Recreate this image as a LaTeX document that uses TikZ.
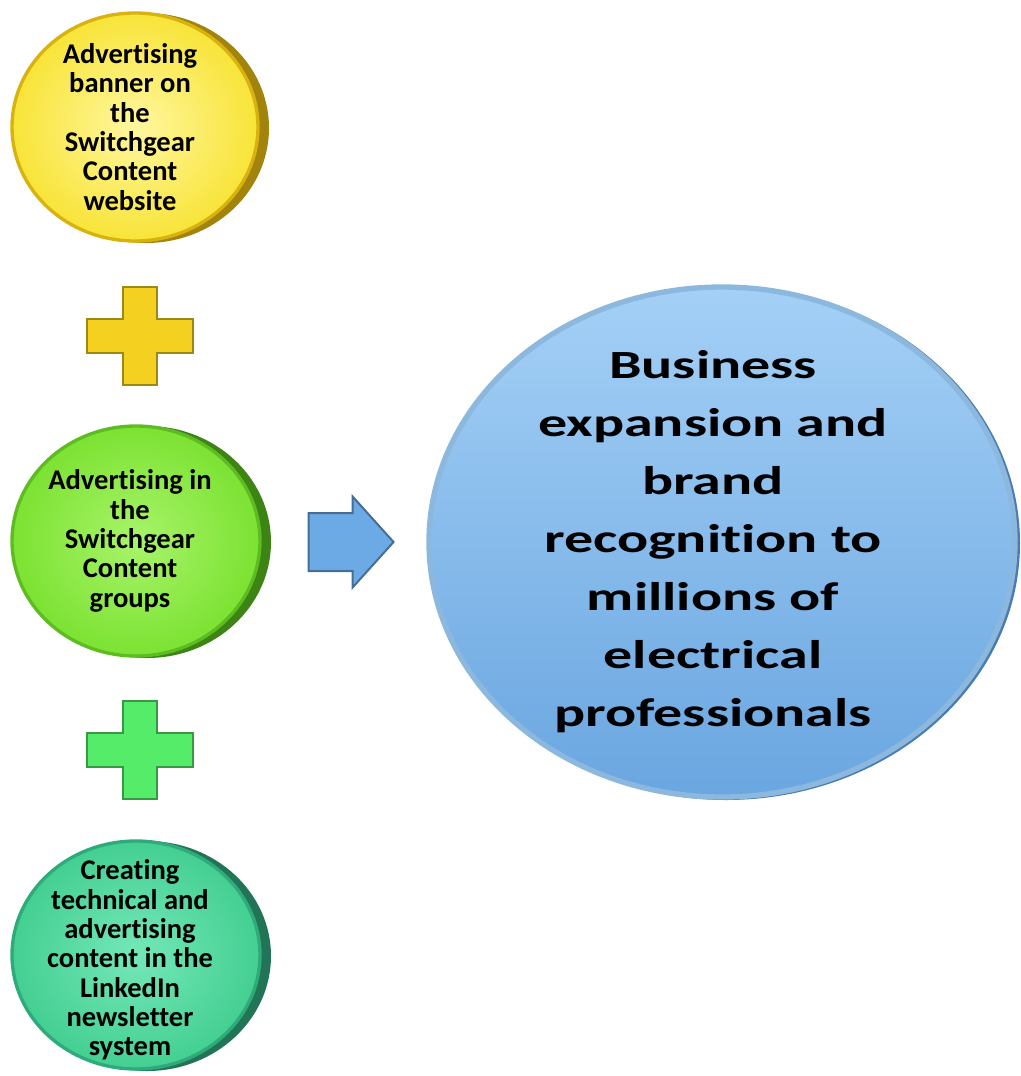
\documentclass[tikz,border=0pt]{standalone}
\usepackage{fontspec}
\setmainfont[Ligatures=NoCommon]{Carlito}
\newfontfamily\widefont[FakeStretch=1.45,Ligatures=NoCommon]{Carlito}
\usetikzlibrary{shapes.arrows}

\definecolor{ylight}{HTML}{FFF7A0}
\definecolor{ymid}{HTML}{F8E438}
\definecolor{yedge}{HTML}{D8B210}
\definecolor{yrim}{HTML}{A2840C}
\definecolor{glight}{HTML}{A8F46A}
\definecolor{gmid}{HTML}{7CE232}
\definecolor{gedge}{HTML}{5CBC22}
\definecolor{grim}{HTML}{3C8414}
\definecolor{tlight}{HTML}{74E8B8}
\definecolor{tmid}{HTML}{44CF92}
\definecolor{tedge}{HTML}{2FAA7A}
\definecolor{trim}{HTML}{217556}
\definecolor{blight}{HTML}{A4D0F6}
\definecolor{bmid}{HTML}{6AA6E0}
\definecolor{bedge}{HTML}{8CB8DE}
\definecolor{brim}{HTML}{4A7CB4}
\definecolor{plusyellow}{HTML}{F4D020}
\definecolor{plusgreen}{HTML}{55EC6A}
\definecolor{arrowblue}{HTML}{6CAAE6}

\begin{document}
\begin{tikzpicture}[x=0.75pt,y=0.75pt,yscale=-1,xscale=1,
    smalltext/.style={align=center,inner sep=0.75pt,font=\bfseries\fontsize{21.4}{22}\selectfont},
    bigtext/.style={align=center,inner sep=0.75pt,font=\widefont\bfseries\fontsize{30}{43.5}\selectfont},
    plusy/.style={fill=#1,draw=#1!65!black,line width=1.5,line join=miter},
    blockarrow/.style={single arrow,fill=arrowblue,draw=arrowblue!65!black,line width=1.5,
        minimum height=63.75pt,inner xsep=0pt,inner ysep=21pt,
        single arrow head extend=12.4pt,single arrow tip angle=96}]
        \useasboundingbox (0,0) rectangle (1021,1076);

        %Shape: Ellipse [yellow coin]
        \fill[yrim] (146,128) ellipse [x radius=123, y radius=115];
        \shade[inner color=ylight,outer color=ymid,draw=yedge,line width=2.5] (135,127) ellipse [x radius=123, y radius=114];
        %Shape: Plus [yellow]
        \filldraw[plusy=plusyellow] (123,287) -- (157,287) -- (157,319) -- (193,319) -- (193,353) -- (157,353) -- (157,385) -- (123,385) -- (123,353) -- (87,353) -- (87,319) -- (123,319) -- cycle ;
        %Shape: Ellipse [green coin]
        \fill[grim] (147,542) ellipse [x radius=124, y radius=116];
        \shade[inner color=glight,outer color=gmid,draw=gedge,line width=2.5] (136,541) ellipse [x radius=124, y radius=115];
        %Shape: Plus [green]
        \filldraw[plusy=plusgreen] (123,701) -- (157,701) -- (157,733) -- (193,733) -- (193,767) -- (157,767) -- (157,799) -- (123,799) -- (123,767) -- (87,767) -- (87,733) -- (123,733) -- cycle ;
        %Shape: Ellipse [teal coin]
        \fill[trim] (147,956) ellipse [x radius=124, y radius=115];
        \shade[inner color=tlight,outer color=tmid,draw=tedge,line width=2.5] (136,955) ellipse [x radius=124, y radius=114];
        %Shape: Ellipse [blue target]
        \fill[brim] (726,543) ellipse [x radius=294, y radius=257];
        \shade[top color=blight,bottom color=bmid,draw=bedge,line width=4] (722,542) ellipse [x radius=293, y radius=255];

        %Block arrow
        \node[blockarrow] (push) at (338,542) {};

        % Text Node
        \node[smalltext] (banner) at (130,127) {Advertising\\banner on\\the\\Switchgear\\Content\\website};
        % Text Node
        \node[smalltext] (groups) at (130,541) {Advertising in\\the\\Switchgear\\Content\\groups};
        % Text Node
        \node[smalltext] (newsletter) at (130,960) {Creating\\technical and\\advertising\\content in the\\LinkedIn\\newsletter\\system};
        % Text Node
        \node[bigtext] (result) at (713,542) {Business\\expansion and\\brand\\recognition to\\millions of\\electrical\\professionals};

\end{tikzpicture}
\end{document}
